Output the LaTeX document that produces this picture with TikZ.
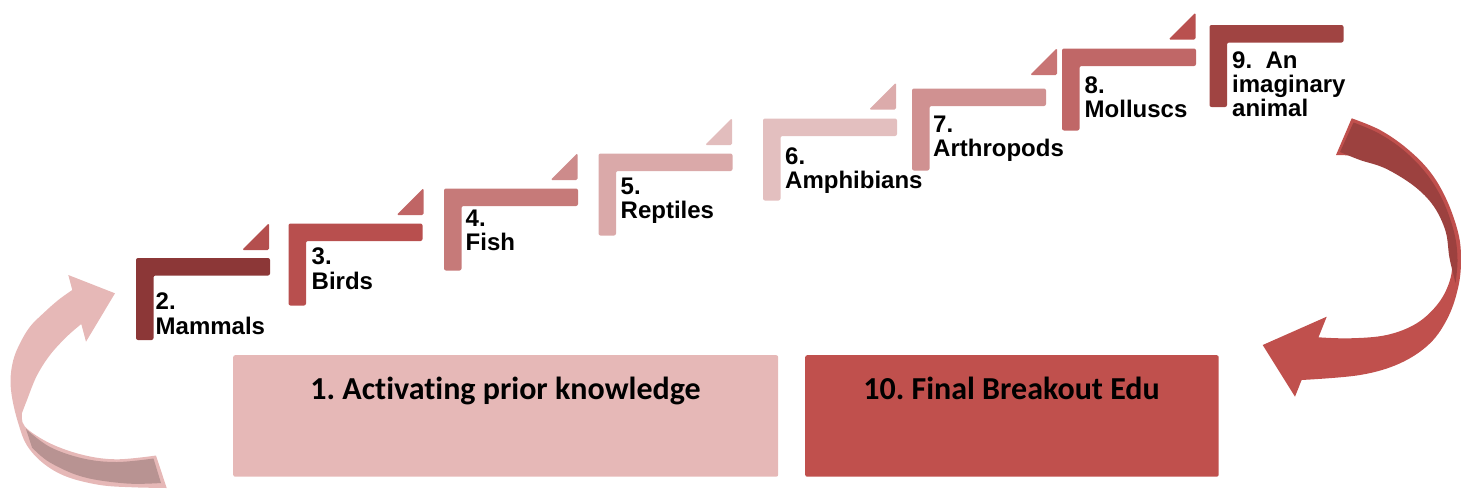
\documentclass[tikz,border=0pt]{standalone}
\usepackage{fontspec}
\setmainfont{Liberation Sans}
\newfontfamily\boxfont[Ligatures=NoCommon]{Carlito}
\frenchspacing
\definecolor{cS2}{HTML}{8C3737}
\definecolor{cT2}{HTML}{B44F4E}
\definecolor{cS3}{HTML}{B84F4E}
\definecolor{cT3}{HTML}{C06565}
\definecolor{cS4}{HTML}{C67A79}
\definecolor{cT4}{HTML}{CD8B8B}
\definecolor{cS5}{HTML}{DAA9A9}
\definecolor{cT5}{HTML}{E2BDBD}
\definecolor{cS6}{HTML}{E3BFBF}
\definecolor{cT6}{HTML}{DCABAB}
\definecolor{cS7}{HTML}{D09191}
\definecolor{cT7}{HTML}{C87474}
\definecolor{cS8}{HTML}{C06767}
\definecolor{cT8}{HTML}{B9504F}
\definecolor{cS9}{HTML}{A04442}
\definecolor{boxlight}{HTML}{E6B8B7}
\definecolor{boxdark}{HTML}{C0504D}
\definecolor{lband}{HTML}{B89392}
\definecolor{rband}{HTML}{9C413F}
\newcommand{\stepshape}[3]{%
  \fill[#3, rounded corners=2pt] (#1,#2) -- ++(134,0) -- ++(0,17.5) -- ++(-116.5,0) -- ++(0,64.5) -- ++(-17.5,0) -- cycle;}
\newcommand{\triup}[3]{%
  \fill[#3, rounded corners=1.5pt] (#1,#2) -- ++(-27,0) -- ++(27,-27) -- cycle;}
\tikzset{
  lbl/.style={anchor=north west, inner sep=0pt, align=left,
    font=\bfseries\fontsize{24}{24.3}\selectfont},
  bigbox/.style={anchor=north west, inner sep=0pt, rounded corners=2pt},
  boxlbl/.style={anchor=base, inner sep=0pt, font=\boxfont\bfseries\fontsize{32}{36}\selectfont}
}
\begin{document}
\begin{tikzpicture}[x=1pt, y=-1pt]
\useasboundingbox (0,0) rectangle (1461,488);
% bottom boxes
\node[bigbox, fill=boxlight, minimum width=545pt, minimum height=121.5pt] (box1) at (233,355) {};
\node[bigbox, fill=boxdark, minimum width=413.5pt, minimum height=121.5pt] (box10) at (805,355) {};
\node[boxlbl] (box1text) at (505.5,399) {1. Activating prior knowledge};
\node[boxlbl] (box10text) at (1011.5,399) {10. Final Breakout Edu};
% triangles
\triup{269}{250}{cT2}
\triup{423.5}{215}{cT3}
\triup{577.5}{180}{cT4}
\triup{732}{145}{cT5}
\triup{896}{109.5}{cT6}
\triup{1057}{75}{cT7}
\triup{1195.5}{39.5}{cT8}
% steps
\stepshape{136}{258}{cS2}
\stepshape{288.5}{223.5}{cS3}
\stepshape{444}{188.5}{cS4}
\stepshape{598.5}{153.5}{cS5}
\stepshape{763}{118.5}{cS6}
\stepshape{912}{88.5}{cS7}
\stepshape{1062}{48.5}{cS8}
\stepshape{1209.5}{25}{cS9}
% labels
\node[lbl] (s2) at (155.5,292.8) {2.\\Mammals};
\node[lbl] (s3) at (311.5,247.8) {3.\\Birds};
\node[lbl] (s4) at (465.5,209.5) {4.\\Fish};
\node[lbl] (s5) at (620.5,177.8) {5.\\Reptiles};
\node[lbl] (s6) at (785,147.1) {6.\\Amphibians};
\node[lbl] (s7) at (933,115.5) {7.\\Arthropods};
\node[lbl] (s8) at (1084.5,76.1) {8.\\Molluscs};
\node[lbl] (s9) at (1232,51.1) {9.\ \ An\\imaginary\\animal};
% left curved arrow
\fill[boxlight] (166.7,488)
  -- plot[smooth, tension=0.6] coordinates {(166.7,488) (133,487.3) (100,485) (66.7,476.7) (43.3,463.3) (26.7,445) (18.3,423.3) (12.5,400) (10.5,380) (13.3,360) (20,343.3) (30,326.7) (43.3,313.3) (58.3,300) (72.3,290)}
  -- (68.3,275) -- (115,293.3) -- (86,341.7) -- (81.3,324)
  -- plot[smooth, tension=0.6] coordinates {(81.3,324) (66.7,336.7) (50,355) (36.7,376) (27,400) (22,413)}
  -- plot[smooth, tension=0.6] coordinates {(22,413) (25,426.7) (50,443.3) (83.3,455) (116.7,459.3) (156,455.5)}
  -- cycle;
\fill[lband] plot[smooth, tension=0.6] coordinates {(26,429) (50,447) (83.3,458.5) (116.7,462) (153.5,458.5)}
  -- (161,483)
  -- plot[smooth, tension=0.6] coordinates {(161,483) (126.7,483.5) (83.3,477) (50,462.5) (32,447.5)}
  -- cycle;
% right curved arrow
\fill[boxdark] (1351.7,118.3)
  -- plot[smooth, tension=0.6] coordinates {(1351.7,118.3) (1380,130) (1406.7,148.3) (1430,171.7) (1446.7,200) (1458.3,233.3) (1461,260) (1458.3,286.7) (1448.3,316.7) (1430,343.3) (1400,363.3) (1360,375) (1301.6,380)}
  -- (1295,396.7) -- (1262.7,345) -- (1326.7,316.7) -- (1318.5,337.3)
  -- plot[smooth, tension=0.6] coordinates {(1318.5,337.3) (1350,338.3) (1386.7,335) (1416.7,323.3) (1438.3,303.3) (1450,280) (1452.3,256.7) (1448.3,230) (1436.7,203.3) (1416.7,181.7) (1386.7,165) (1360,156.7) (1336,155)}
  -- cycle;
\fill[rband] (1340,152) -- (1353.5,122.5)
  -- plot[smooth, tension=0.6] coordinates {(1353.5,122.5) (1379,133.5) (1404.5,151) (1427,174.5) (1443.5,202) (1454.5,234) (1457.5,260) (1455.5,283)}
  -- plot[smooth, tension=0.6] coordinates {(1455.5,283) (1449.5,258) (1445.5,231) (1433.5,206) (1414,186) (1385.5,168.5) (1360,160) (1340,152)}
  -- cycle;
\end{tikzpicture}
\end{document}
